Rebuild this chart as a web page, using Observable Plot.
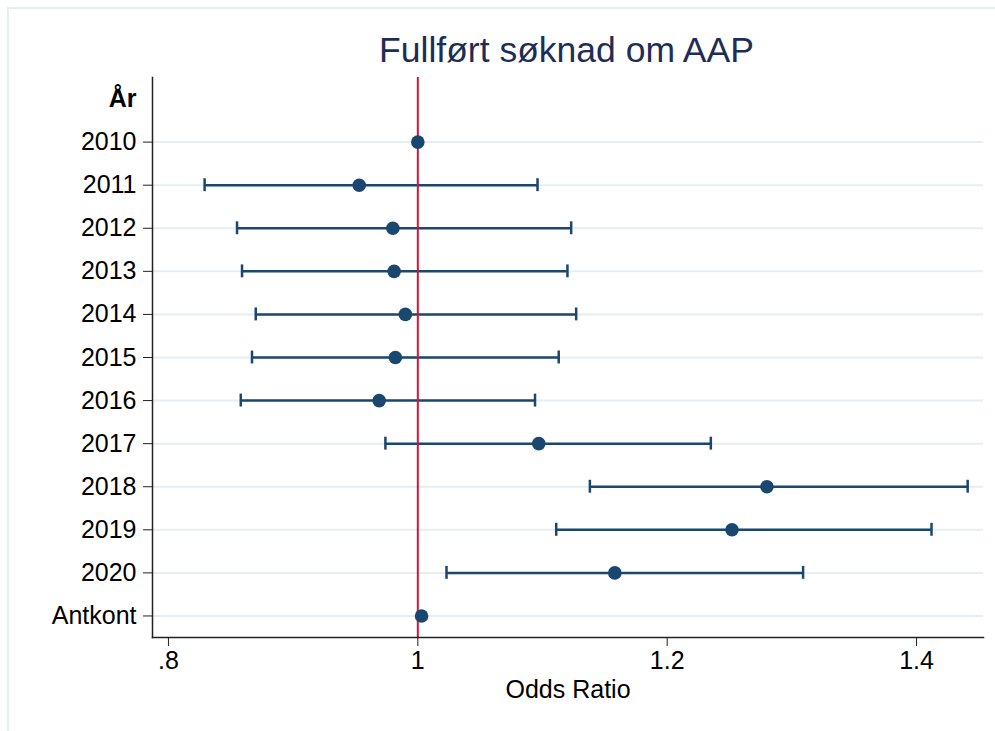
<!DOCTYPE html>
<html>
<head>
<meta charset="utf-8">
<script src="https://cdn.jsdelivr.net/npm/d3@7"></script>
<script src="https://cdn.jsdelivr.net/npm/@observablehq/plot@0.6"></script>
<style>
  html, body { margin: 0; padding: 0; background: #fff; overflow: hidden; }
  #wrap { position: relative; width: 995px; height: 731px; font-family: "Liberation Sans", Arial, sans-serif; }
  #border { position: absolute; left: 7px; top: 7px; width: 1100px; height: 1100px; border-left: 2px solid #e6eef0; border-top: 2px solid #e6eef0; }
  #title { position: absolute; left: 0; width: 1133px; top: 28px; text-align: center; font-size: 35.5px; color: #1e2d56; line-height: 44px; white-space: nowrap; }
  #chart { position: absolute; left: 0; top: 0; }
</style>
</head>
<body>
<div id="wrap">
  <div id="border"></div>
  <div id="title">Fullført søknad om AAP</div>
  <div id="chart"></div>
</div>
<script>
// Rows (categories) shown on the y axis, top to bottom
const header = "År";
const labels = ["2010", "2011", "2012", "2013", "2014", "2015", "2016", "2017", "2018", "2019", "2020", "Antkont"];
// Odds ratio point estimates
const estimates = [1.000, 0.953, 0.980, 0.981, 0.990, 0.982, 0.969, 1.097, 1.280, 1.252, 1.158, 1.003];
// 95% confidence interval bounds (null = none drawn)
const lower = [null, 0.829, 0.855, 0.859, 0.870, 0.867, 0.858, 0.974, 1.138, 1.111, 1.023, null];
const upper = [null, 1.096, 1.123, 1.120, 1.127, 1.113, 1.094, 1.235, 1.441, 1.412, 1.309, null];
// x axis ticks
const xTicks = [0.8, 1, 1.2, 1.4];
const xDomain = [0.7872, 1.4537];
const refValue = 1;

const rows = [header, ...labels];
const data = labels.map((l, i) => ({label: l, est: estimates[i], lo: lower[i], hi: upper[i]}));
const ci = data.filter(d => d.lo != null && d.hi != null);

const navy = "#1a476f";
const axisColor = "#222";

const chart = Plot.plot({
  width: 995,
  height: 731,
  marginLeft: 152,
  marginRight: 12,
  marginTop: 77,
  marginBottom: 94,
  style: {fontFamily: "'Liberation Sans', Arial, sans-serif", fontSize: "25px", color: "#000", background: "transparent"},
  x: {domain: xDomain},
  y: {type: "band", domain: rows, paddingInner: 0.7, paddingOuter: 0.35, round: false},
  marks: [
    Plot.gridY(labels, {stroke: "#e6eef1", strokeOpacity: 1, strokeWidth: 2}),
    Plot.ruleY(ci, {y: "label", x1: "lo", x2: "hi", stroke: navy, strokeWidth: 2.5}),
    Plot.tickX(ci, {y: "label", x: "lo", stroke: navy, strokeWidth: 2.5}),
    Plot.tickX(ci, {y: "label", x: "hi", stroke: navy, strokeWidth: 2.5}),
    Plot.ruleX([refValue], {stroke: "#d2153b", strokeWidth: 2}),
    Plot.dot(data, {y: "label", x: "est", r: 6.8, fill: navy, stroke: null}),
    Plot.frame({anchor: "left", stroke: axisColor, strokeWidth: 1.5}),
    Plot.frame({anchor: "bottom", stroke: axisColor, strokeWidth: 1.5}),
    Plot.axisY({ticks: labels, tickSize: 9, tickPadding: 7, fontSize: 25, stroke: axisColor, fill: "#000", label: null}),
    Plot.axisY({ticks: [header], tickSize: 0, tickPadding: 16, fontSize: 25, fontWeight: "bold", fill: "#000", label: null}),
    Plot.axisX({ticks: xTicks, tickSize: 9, tickPadding: 5, fontSize: 25, stroke: axisColor, fill: "#000",
      tickFormat: d => d === 1 ? "1" : String(d).replace(/^0\./, "."),
      label: "Odds Ratio", labelAnchor: "center", labelArrow: "none", labelOffset: 60})
  ]
});
document.getElementById("chart").appendChild(chart);
</script>
</body>
</html>
